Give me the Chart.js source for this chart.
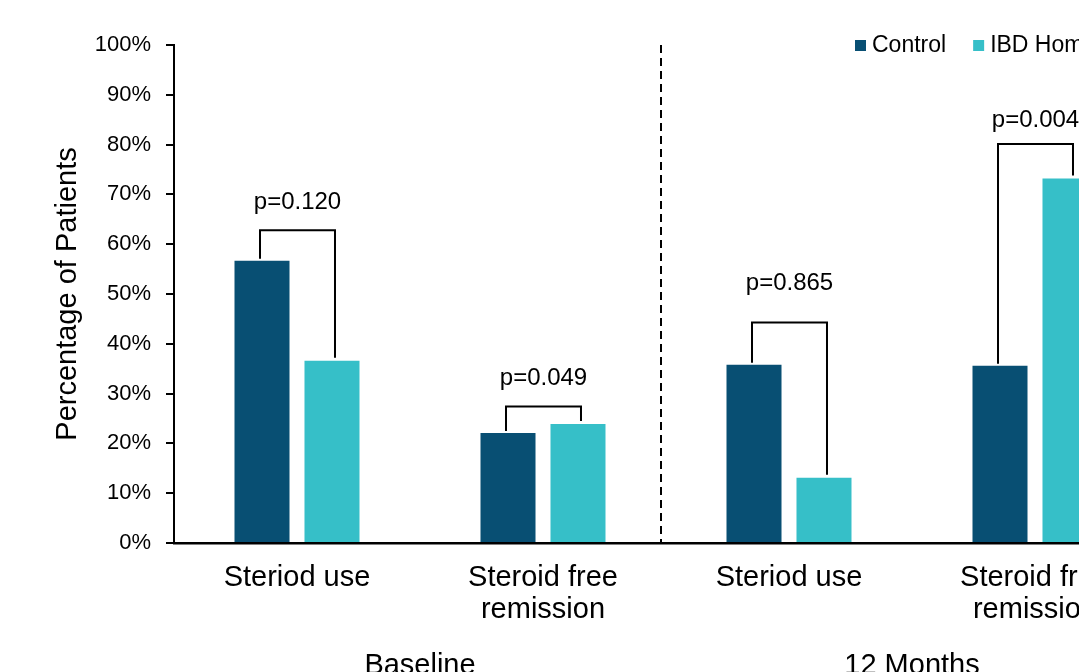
<!DOCTYPE html>
<html>
<head>
<meta charset="utf-8">
<script src="https://cdn.jsdelivr.net/npm/chart.js@4"></script>
<style>
  html, body { margin: 0; padding: 0; background: #fff; overflow: hidden; }
</style>
</head>
<body>
<canvas id="chart" width="1180" height="672"></canvas>
<script>
// Categories (the plot is cut off on the right, like the original)
const categories = [['Steriod use'], ['Steroid free', 'remission'], ['Steriod use'], ['Steroid free', 'remission']];
const groups = ['Baseline', '12 Months'];

// Percentages
const controlValues = [56.7, 22.1, 35.8, 35.6];
const ibdValues = [36.6, 23.9, 13.1, 73.2];

// p-values and the level (in %) of their brackets / labels
const pValues = ['p=0.120', 'p=0.049', 'p=0.865', 'p=0.004'];
const bracketLevels = [62.8, 27.4, 44.3, 80.1];
const pLabelLevels = [68.4, 33.0, 52.1, 84.9];

const FONT = "'Liberation Sans', Arial, sans-serif";

// brackets, p-values, dashed separator, group names and legend
const annotations = {
    id: 'annotations',
    afterDatasetsDraw(chart) {
        const { ctx, scales: { x, y }, chartArea } = chart;
        const bars0 = chart.getDatasetMeta(0).data;
        const bars1 = chart.getDatasetMeta(1).data;
        ctx.save();
        ctx.strokeStyle = '#000';
        ctx.fillStyle = '#000';
        ctx.lineWidth = 2;
        ctx.font = '24px ' + FONT;
        ctx.textAlign = 'center';
        ctx.textBaseline = 'middle';
        pValues.forEach((p, i) => {
            const x1 = bars0[i].x - 2, x2 = bars1[i].x + 3;
            const top = y.getPixelForValue(bracketLevels[i]);
            ctx.beginPath();
            ctx.moveTo(x1, bars0[i].y - 2);
            ctx.lineTo(x1, top);
            ctx.lineTo(x2, top);
            ctx.lineTo(x2, bars1[i].y - 3);
            ctx.stroke();
            ctx.fillText(p, (x1 + x2) / 2, y.getPixelForValue(pLabelLevels[i]));
        });

        // dashed line between Baseline and 12 Months
        const sepX = x.getPixelForValue(1.5) - 5;
        ctx.setLineDash([8, 5]);
        ctx.beginPath();
        ctx.moveTo(sepX, chartArea.top);
        ctx.lineTo(sepX, chartArea.bottom);
        ctx.stroke();
        ctx.setLineDash([]);
        ctx.restore();
    },
    afterDraw(chart) {
        const { ctx, scales: { x } } = chart;
        ctx.save();
        ctx.fillStyle = '#000';
        ctx.font = '29px ' + FONT;
        ctx.textAlign = 'center';
        ctx.textBaseline = 'alphabetic';
        groups.forEach((g, i) => {
            const cx = (x.getPixelForValue(i * 2) + x.getPixelForValue(i * 2 + 1)) / 2;
            ctx.fillText(g, cx, 674);
        });

        // legend
        ctx.font = '23px ' + FONT;
        ctx.textAlign = 'left';
        ctx.textBaseline = 'middle';
        let lx = 855;
        chart.data.datasets.forEach(ds => {
            ctx.fillStyle = ds.backgroundColor;
            ctx.fillRect(lx, 40, 11, 11);
            ctx.fillStyle = '#000';
            ctx.fillText(ds.label, lx + 17, 46);
            lx += 17 + ctx.measureText(ds.label).width + 27;
        });
        ctx.restore();
    }
};

const ctx = document.getElementById('chart').getContext('2d');
new Chart(ctx, {
    type: 'bar',
    data: {
        labels: categories,
        datasets: [
            {
                label: 'Control',
                data: controlValues,
                backgroundColor: '#084F73',
                categoryPercentage: 0.569,
                barPercentage: 0.786
            },
            {
                label: 'IBD Home Monitoring',
                data: ibdValues,
                backgroundColor: '#36BFC8',
                categoryPercentage: 0.569,
                barPercentage: 0.786
            }
        ]
    },
    options: {
        responsive: false,
        animation: false,
        layout: { padding: { top: 45, right: 22, left: 0, bottom: 0 } },
        plugins: {
            legend: { display: false },
            tooltip: { enabled: false }
        },
        scales: {
            x: {
                afterFit(scale) { scale.height = 129; },
                grid: { display: false, drawTicks: false },
                border: { display: true, color: '#000', width: 2.5 },
                ticks: {
                    color: '#000',
                    padding: 19,
                    font: { family: FONT, size: 29, lineHeight: 1.1 }
                }
            },
            y: {
                min: 0,
                max: 100,
                afterFit(scale) { scale.width = 174; },
                grid: { drawOnChartArea: false, drawTicks: true, tickLength: 8, color: '#000', lineWidth: 2 },
                border: { display: true, color: '#000', width: 2 },
                ticks: {
                    stepSize: 10,
                    color: '#000',
                    padding: 15,
                    font: { family: FONT, size: 22 },
                    callback: v => v + '%'
                },
                title: {
                    display: true,
                    text: 'Percentage of Patients',
                    color: '#000',
                    padding: { top: 51, bottom: 0 },
                    font: { family: FONT, size: 29 }
                }
            }
        }
    },
    plugins: [annotations]
});
</script>
</body>
</html>
